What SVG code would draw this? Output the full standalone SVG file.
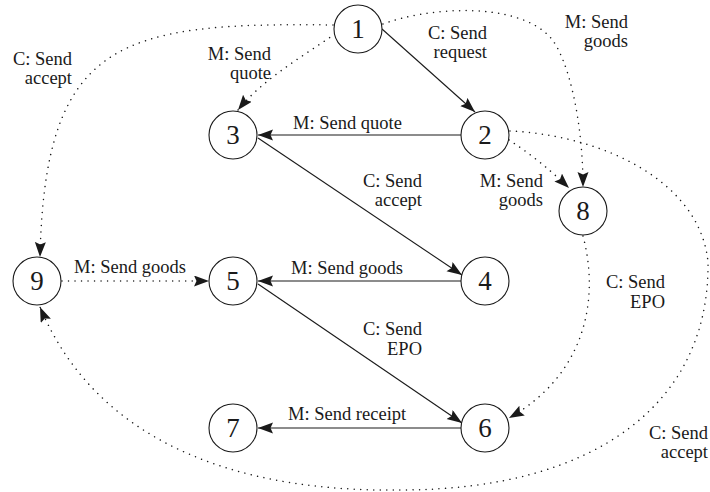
<svg xmlns="http://www.w3.org/2000/svg" width="710" height="492" viewBox="0 0 710 492">
<defs>
<style>
.node circle{fill:#fff;stroke:#1a1a1a;stroke-width:1.1}
.node text{font-size:27px;fill:#1a1a1a;text-anchor:middle}
.lbl{font-size:18.5px;fill:#1a1a1a}
.end{text-anchor:end}
.solid{fill:none;stroke:#1a1a1a;stroke-width:1.1}
.dot{fill:none;stroke:#1a1a1a;stroke-width:1.5;stroke-linecap:round;stroke-dasharray:0.01 6.5}
</style>
<marker id="ah" markerUnits="userSpaceOnUse" markerWidth="16" markerHeight="12" refX="15" refY="5.5" orient="auto">
<path d="M0,0 L15,5.5 L0,11 L2.5,5.5 z" fill="#1a1a1a"/>
</marker>
</defs>
<rect width="710" height="492" fill="#fff"/>
<g id="connectors">
<path class="solid" d="M382,29 L475,112" marker-end="url(#ah)"/>
<path class="solid" d="M461,135 L258,135" marker-end="url(#ah)"/>
<path class="solid" d="M258,138 L462,275" marker-end="url(#ah)"/>
<path class="solid" d="M461,281 L258,281" marker-end="url(#ah)"/>
<path class="solid" d="M258,284 L462,423" marker-end="url(#ah)"/>
<path class="solid" d="M461,428 L258,428" marker-end="url(#ah)"/>
<path class="dot" d="M62,281 L209,281" marker-end="url(#ah)"/>
<path class="dot" d="M335,34 C300,58 262,80 238,110" marker-end="url(#ah)"/>
<path class="dot" d="M333,25 C120,22 45,40 40,257" marker-end="url(#ah)"/>
<path class="dot" d="M383,24 C425,8 515,0 550,37 C568,57 583,120 583,187" marker-end="url(#ah)"/>
<path class="dot" d="M509,140 Q540,160 569,188" marker-end="url(#ah)"/>
<path class="dot" d="M583,236 C600,300 585,375 509,418" marker-end="url(#ah)"/>
<path class="dot" d="M510,131 C600,135 700,180 708,262 C710,400 600,490 400,490 C250,492 100,450 40,307" marker-end="url(#ah)"/>
</g>
<g id="labels" font-family="Liberation Serif, Times New Roman, DejaVu Serif, serif">
<text class="lbl end" x="72" y="65">C: Send</text>
<text class="lbl end" x="72" y="84">accept</text>
<text class="lbl end" x="271" y="60">M: Send</text>
<text class="lbl end" x="271" y="79">quote</text>
<text class="lbl end" x="487" y="39">C: Send</text>
<text class="lbl end" x="487" y="58">request</text>
<text class="lbl end" x="628" y="28">M: Send</text>
<text class="lbl end" x="628" y="47">goods</text>
<text class="lbl" x="293" y="129">M: Send quote</text>
<text class="lbl end" x="422" y="187">C: Send</text>
<text class="lbl end" x="422" y="206">accept</text>
<text class="lbl end" x="543" y="187">M: Send</text>
<text class="lbl end" x="543" y="206">goods</text>
<text class="lbl" x="74" y="273">M: Send goods</text>
<text class="lbl" x="291" y="274">M: Send goods</text>
<text class="lbl end" x="665" y="288">C: Send</text>
<text class="lbl end" x="665" y="308">EPO</text>
<text class="lbl end" x="422" y="335">C: Send</text>
<text class="lbl end" x="422" y="355">EPO</text>
<text class="lbl" x="288" y="420">M: Send receipt</text>
<text class="lbl end" x="708" y="439">C: Send</text>
<text class="lbl end" x="708" y="458">accept</text>
</g>
<g font-family="Liberation Serif, Times New Roman, DejaVu Serif, serif">
<g id="n1" class="node"><circle cx="358" cy="29" r="24"/><text x="358" y="38">1</text></g>
<g id="n2" class="node"><circle cx="485" cy="135" r="24"/><text x="485" y="144">2</text></g>
<g id="n3" class="node"><circle cx="233" cy="135" r="24"/><text x="233" y="144">3</text></g>
<g id="n4" class="node"><circle cx="485" cy="281" r="24"/><text x="485" y="290">4</text></g>
<g id="n5" class="node"><circle cx="233" cy="281" r="24"/><text x="233" y="290">5</text></g>
<g id="n6" class="node"><circle cx="485" cy="428" r="24"/><text x="485" y="437">6</text></g>
<g id="n7" class="node"><circle cx="233" cy="428" r="24"/><text x="233" y="437">7</text></g>
<g id="n8" class="node"><circle cx="583" cy="211" r="24"/><text x="583" y="220">8</text></g>
<g id="n9" class="node"><circle cx="37" cy="281" r="24"/><text x="37" y="290">9</text></g>
</g>
</svg>
